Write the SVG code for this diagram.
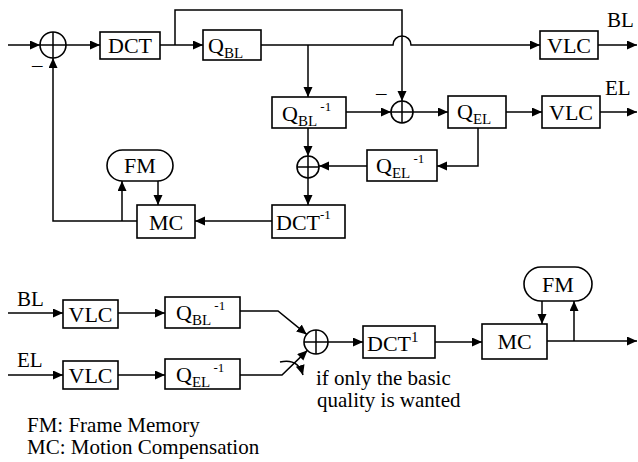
<svg xmlns="http://www.w3.org/2000/svg" width="638" height="462" viewBox="0 0 638 462">
<style>
  .box{fill:#fff;stroke:#000;stroke-width:1.6}
  .sum{fill:none;stroke:#000;stroke-width:1.6}
  .ln{fill:none;stroke:#000;stroke-width:1.5}
  .ar{marker-end:url(#ah)}
  .t{font-size:22px;font-family:'Liberation Serif','Times New Roman',serif}
  .c{text-anchor:middle}
  .sm{font-size:21px;font-family:'Liberation Serif','Times New Roman',serif}
</style>
<defs>
  <marker id="ah" markerUnits="userSpaceOnUse" markerWidth="11" markerHeight="10" refX="10" refY="4.5" orient="auto">
    <path d="M0,0 L10,4.5 L0,9 z" fill="#000"/>
  </marker>
</defs>

<g id="connectors">
  <path class="ln ar" d="M8 45 H40"/>
  <path class="ln ar" d="M66 45 H100"/>
  <path class="ln ar" d="M160 45 H203"/>
  <path class="ln ar" d="M175 45 V10 H402 V101"/>
  <path class="ln ar" d="M261 45 H393 A9 9 0 0 1 411 45 H540"/>
  <path class="ln ar" d="M598 45 H637"/>
  <path class="ln ar" d="M308 45 V97"/>
  <path class="ln ar" d="M346 112 H391"/>
  <path class="ln ar" d="M413 112 H448"/>
  <path class="ln ar" d="M506 112 H542"/>
  <path class="ln ar" d="M600 112 H637"/>
  <path class="ln ar" d="M478 128 V166 H437"/>
  <path class="ln ar" d="M367 166 H319"/>
  <path class="ln ar" d="M308 128 V156"/>
  <path class="ln ar" d="M308 178 V205"/>
  <path class="ln ar" d="M272 221 H195"/>
  <path class="ln ar" d="M137 221 H53 V58"/>
  <path class="ln ar" d="M122 221 V181"/>
  <path class="ln ar" d="M158 181 V205"/>
  <path class="ln ar" d="M8 313 H63"/>
  <path class="ln ar" d="M118 313 H165"/>
  <path class="ln ar" d="M240 311 H278 L306.7 334.4"/>
  <path class="ln ar" d="M8 375 H63"/>
  <path class="ln ar" d="M118 375 H165"/>
  <path class="ln ar" d="M240 375 H282 L307.4 350.4"/>
  <path class="ln ar" d="M280 362 Q298 358 303 375"/>
  <path class="ln ar" d="M328 342 H363"/>
  <path class="ln ar" d="M435 342 H482"/>
  <path class="ln ar" d="M547 341 H637"/>
  <path class="ln ar" d="M574 341 V301"/>
  <path class="ln ar" d="M542 301 V324"/>
</g>

<g id="sum1"><circle class="sum" cx="53" cy="45" r="13"/><path class="ln" d="M40 45 H66 M53 32 V58"/></g>
<g id="minus1"><text x="32" y="72" class="sm">–</text></g>
<g id="dct"><rect class="box" x="100" y="32" width="60" height="27"/><text x="130" y="53" class="t c">DCT</text></g>
<g id="qbl"><rect class="box" x="203" y="30" width="58" height="30"/><text x="208" y="53" class="t">Q<tspan font-size="15" dy="5">BL</tspan></text></g>
<g id="vlc1"><rect class="box" x="540" y="31" width="58" height="28"/><text x="569" y="53" class="t c">VLC</text></g>
<g id="lblBL"><text x="607" y="27" class="sm">BL</text></g>
<g id="qbli"><rect class="box" x="272" y="97" width="74" height="31"/><text x="282" y="121" class="t">Q<tspan font-size="15" dy="5">BL</tspan><tspan font-size="13" dy="-15"> -1</tspan></text></g>
<g id="sum3"><circle class="sum" cx="402" cy="112" r="11"/><path class="ln" d="M391 112 H413 M402 101 V123"/></g>
<g id="minus3"><text x="376" y="100" class="sm">–</text></g>
<g id="qel"><rect class="box" x="448" y="96" width="58" height="32"/><text x="457" y="119" class="t">Q<tspan font-size="15" dy="5">EL</tspan></text></g>
<g id="vlc2"><rect class="box" x="542" y="96" width="58" height="32"/><text x="571" y="120" class="t c">VLC</text></g>
<g id="lblEL"><text x="605" y="95" class="sm">EL</text></g>
<g id="qeli"><rect class="box" x="367" y="150" width="70" height="31"/><text x="376" y="173" class="t">Q<tspan font-size="15" dy="5">EL</tspan><tspan font-size="13" dy="-15"> -1</tspan></text></g>
<g id="sum2"><circle class="sum" cx="308" cy="167" r="11"/><path class="ln" d="M297 167 H319 M308 156 V178"/></g>
<g id="dcti"><rect class="box" x="272" y="205" width="73" height="33"/><text x="276" y="230" class="t">DCT<tspan font-size="13" dy="-11">-1</tspan></text></g>
<g id="mc1"><rect class="box" x="137" y="205" width="58" height="33"/><text x="166" y="230" class="t c">MC</text></g>
<g id="fm1"><rect class="box" x="107" y="150" width="66" height="31" rx="15.5"/><text x="140" y="173" class="t c">FM</text></g>

<g id="lblBL2"><text x="17" y="306" class="sm">BL</text></g>
<g id="vlc3"><rect class="box" x="63" y="300" width="55" height="28"/><text x="90.5" y="322" class="t c">VLC</text></g>
<g id="qbli2"><rect class="box" x="165" y="297" width="75" height="31"/><text x="176" y="320" class="t">Q<tspan font-size="15" dy="5">BL</tspan><tspan font-size="13" dy="-15"> -1</tspan></text></g>
<g id="lblEL2"><text x="17" y="367" class="sm">EL</text></g>
<g id="vlc4"><rect class="box" x="63" y="361" width="55" height="28"/><text x="90.5" y="383" class="t c">VLC</text></g>
<g id="qeli2"><rect class="box" x="165" y="359" width="75" height="30"/><text x="176" y="382" class="t">Q<tspan font-size="15" dy="5">EL</tspan><tspan font-size="13" dy="-15"> -1</tspan></text></g>
<g id="sum4"><circle class="sum" cx="316" cy="342" r="12"/><path class="ln" d="M304 342 H328 M316 330 V354"/></g>
<g id="dcti2"><rect class="box" x="363" y="326" width="72" height="32"/><text x="367" y="351" class="t">DCT<tspan font-size="15" dy="-9">1</tspan></text></g>
<g id="mc2"><rect class="box" x="482" y="324" width="65" height="35"/><text x="514.5" y="349" class="t c">MC</text></g>
<g id="fm2"><rect class="box" x="524" y="267" width="68" height="34" rx="17"/><text x="558" y="292" class="t c">FM</text></g>
<g id="note"><text x="316" y="385" class="sm">if only the basic</text><text x="317" y="407" class="sm">quality is wanted</text></g>
<g id="legend"><text x="27" y="432" class="sm">FM: Frame Memory</text><text x="27" y="454" class="sm">MC: Motion Compensation</text></g>
</svg>
